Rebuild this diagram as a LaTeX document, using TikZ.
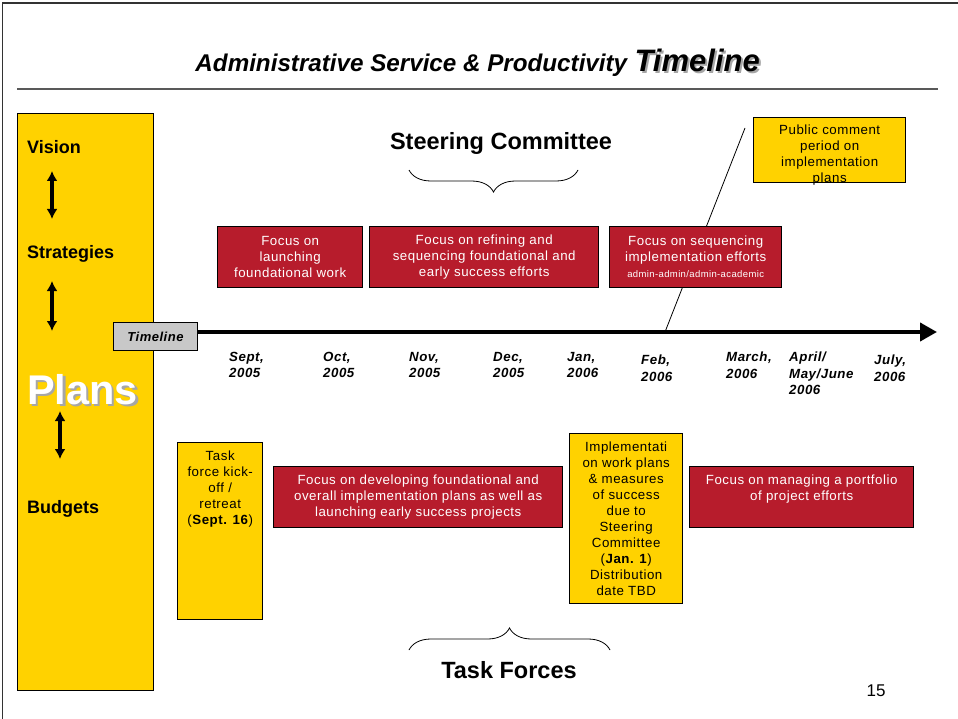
\documentclass[tikz,border=0pt]{standalone}
\usepackage{fontspec}
\setmainfont{Liberation Sans}
\newfontfamily\boxfont[LetterSpace=4]{Liberation Sans}
\usetikzlibrary{arrows.meta, decorations.pathreplacing}
\definecolor{crimson}{RGB}{183,28,44}
\definecolor{gold}{RGB}{255,210,0}
\definecolor{greybox}{RGB}{200,200,200}

\begin{document}
\begin{tikzpicture}[x=1pt, y=-1pt,
	redbox/.style={draw, line width=1.4pt, fill=crimson, text=white, align=center, inner sep=0pt, anchor=north west, font=\boxfont\fontsize{13.3}{16}\selectfont},
	yellowbox/.style={draw, line width=1.4pt, fill=gold, inner sep=0pt, anchor=north west},
	boxtext/.style={align=center, inner sep=0pt, anchor=north, font=\boxfont\fontsize{13.3}{16}\selectfont},
	sidelabel/.style={anchor=base west, inner sep=0pt, font=\bfseries\fontsize{18}{20}\selectfont},
	datelabel/.style={anchor=north west, align=left, inner sep=0pt, font=\boxfont\bfseries\itshape\fontsize{13.3}{16.5}\selectfont},
	bigbrace/.style={decorate, decoration={brace, amplitude=22pt}, line width=0.8pt},
	updown/.style={line width=3.6pt, {Latex[length=10pt,width=11pt]}-{Latex[length=10pt,width=11pt]}}]
	% page, one unit is one pixel, y runs downwards
	\useasboundingbox (0,0) rectangle (958,719);
	\fill[white] (0,0) rectangle (958,719);
	\draw[line width=1.2pt, black!80] (2.5,719) -- (2.5,3) -- (958,3);
	% heading
	\node[anchor=base east, inner sep=0pt, text=black!35, font=\bfseries\itshape\fontsize{31}{34}\selectfont] (titleshadow) at (762,74) {Timeline};
	\node[anchor=base east, inner sep=0pt, font=\bfseries\itshape\fontsize{31}{34}\selectfont] (titleword) at (760,72) {Timeline};
	\node[anchor=base east, inner sep=0pt, font=\bfseries\itshape\fontsize{24.2}{27}\selectfont] (titlemain) at ([xshift=-7pt]titleword.base west) {Administrative Service \& Productivity};
	\draw[line width=2.5pt, black!65] (17,89) -- (938,89);

	% planning levels on the left
	\node[yellowbox, minimum width=136pt, minimum height=577pt] (levels) at (17,113) {};
	\node[sidelabel] (vision) at (27,154) {Vision};
	\node[sidelabel] (strategies) at (27,259) {Strategies};
	\node[sidelabel] (budgets) at (27,513) {Budgets};
	\node[anchor=base west, inner sep=0pt, text=black!35, font=\bfseries\fontsize{41.5}{44}\selectfont] (plansshadow) at (29.5,406.5) {Plans};
	\node[anchor=base west, inner sep=0pt, text=white, font=\bfseries\fontsize{41.5}{44}\selectfont] (plans) at (27,404) {Plans};
	\foreach \x/\a/\b in {52/171/219, 52/281/331, 60/411/459}
		\draw[updown] (\x,\a) -- (\x,\b);

	% steering committee
	\node[anchor=base, inner sep=0pt, font=\bfseries\fontsize{23.5}{26}\selectfont] (steering) at (501,150) {Steering Committee};
	\draw[bigbrace] (578,170) -- (409,170);
	\node[yellowbox, minimum width=152pt, minimum height=65pt] (comment) at (753,117) {};
	\node[boxtext] (commenttext) at ([yshift=-8pt]comment.north) {Public comment\\period on\\implementation\\plans};
	\coordinate (commenttop) at (745,128);
	\coordinate (commentfoot) at (665,332);
	\draw[line width=0.8pt] (commenttop) -- (commentfoot);
	\node[redbox, minimum width=145pt, minimum height=61pt] (launching) at (217,226) {Focus on\\launching\\foundational work};
	\node[redbox, minimum width=229pt, minimum height=61pt] (refining) at (369,226) {Focus on refining and\\sequencing foundational and\\early success efforts};
	\node[redbox, minimum width=172pt, minimum height=61pt] (sequencing) at (609,226) {Focus on sequencing\\implementation efforts\\{\fontsize{9.5}{12}\selectfont admin-admin/admin-academic}};

	% time axis
	\node[draw, line width=1pt, fill=greybox, minimum width=84pt, minimum height=28pt, inner sep=0pt, anchor=north west, font=\boxfont\bfseries\itshape\fontsize{13}{14}\selectfont] (timelabel) at (113,322) {Timeline};
	\coordinate (axisend) at (937,332);
	\draw[line width=4pt, -{Triangle[length=17pt,width=18pt]}] (timelabel.east |- axisend) -- (axisend);
	\foreach \x/\y/\n/\lab in {229/352/sep/{Sept,\\2005}, 323/352/oct/{Oct,\\2005}, 409/352/nov/{Nov,\\2005}, 493/352/dec/{Dec,\\2005}, 567/352/jan/{Jan,\\2006}, 641/355/feb/{Feb,\\2006}, 726/352/mar/{March,\\2006}, 789/352/apr/{April/\\May/June\\2006}, 874/355/jul/{July,\\2006}}
		\node[datelabel] (\n) at (\x,\y) {\lab};

	% task forces
	\node[yellowbox, minimum width=85pt, minimum height=177pt] (kickoff) at (177,442) {};
	\node[boxtext] (kickofftext) at ([yshift=-9pt]kickoff.north) {Task\\force kick-\\off /\\retreat\\(\textbf{Sept. 16})};
	\node[redbox, minimum width=289pt, minimum height=61pt] (developing) at (273,466) {Focus on developing foundational and\\overall implementation plans as well as\\launching early success projects};
	\node[yellowbox, minimum width=113pt, minimum height=170pt] (workplans) at (569,433) {};
	\node[boxtext] (workplanstext) at ([yshift=-9pt]workplans.north) {Implementati\\on work plans\\\& measures\\of success\\due to\\Steering\\Committee\\(\textbf{Jan. 1})\\Distribution\\date TBD};
	\node[redbox, minimum width=224pt, minimum height=61pt] (portfolio) at (689,466) {};
	\node[boxtext, text=white] (portfoliotext) at ([yshift=-9pt]portfolio.north) {Focus on managing a portfolio\\of project efforts};
	\draw[bigbrace] (409,650) -- (610,650);
	\node[anchor=base, inner sep=0pt, font=\bfseries\fontsize{23.5}{26}\selectfont] (taskforces) at (509,678) {Task Forces};

	\node[anchor=base, inner sep=0pt, font=\fontsize{17}{20}\selectfont] (pagenum) at (876,696) {15};
\end{tikzpicture}
\end{document}
